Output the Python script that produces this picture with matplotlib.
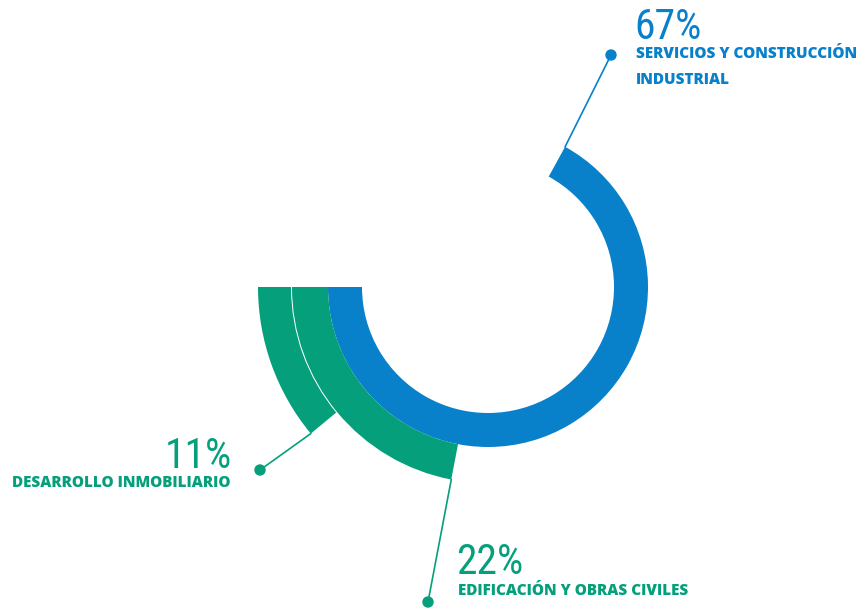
import matplotlib
matplotlib.use("Agg")
import matplotlib.pyplot as plt
from matplotlib.patches import Wedge, Circle
import numpy as np

# datos: reparto por área de negocio
areas = ["SERVICIOS Y CONSTRUCCIÓN\nINDUSTRIAL",
         "EDIFICACIÓN Y OBRAS CIVILES",
         "DESARROLLO INMOBILIARIO"]
shares = [67, 22, 11]
colors = ["#0880CA", "#05A07B", "#05A07B"]

W, H = 866, 608
CX, CY = 488, H - 287          # centro de los anillos (coordenadas en píxeles)
START = 180                    # todos los anillos arrancan a la izquierda
rings = [(126, 160), (160, 196), (197, 230)]   # radio interior / exterior

# punto final de la guía y posición de los textos (px, y desde arriba)
dots = [(611, 55), (428, 602), (260, 470)]
pct_pos = [(634, 39, "left"), (456, 574, "left"), (232, 468, "right")]
lab_pos = [(636, 46, "left"), (458, 583, "left"), (231, 475, "right")]

PCT_FONT = ["Roboto Condensed", "DejaVu Sans"]
LAB_FONT = ["Open Sans", "DejaVu Sans"]

fig = plt.figure(figsize=(W / 100, H / 100), dpi=100)
ax = fig.add_axes([0, 0, 1, 1])
ax.set_xlim(0, W)
ax.set_ylim(0, H)
ax.set_aspect("equal")
ax.axis("off")

for i, (share, col) in enumerate(zip(shares, colors)):
    r_in, r_out = rings[i]
    span = share * 3.6
    ax.add_patch(Wedge((CX, CY), r_out, START, START + span,
                       width=r_out - r_in, facecolor=col, edgecolor="none"))

    # guía desde la esquina exterior del arco hasta el punto
    end = np.deg2rad(START + span)
    x0 = CX + r_out * np.cos(end)
    y0 = CY + r_out * np.sin(end)
    dx, dy = dots[i]
    ax.plot([x0, dx], [y0, H - dy], color=col, lw=1.2, solid_capstyle="round")
    ax.add_patch(Circle((dx, H - dy), 5, color=col))

    px, py, ha = pct_pos[i]
    ax.text(px, H - py, f"{share}%", ha=ha, va="baseline", color=col,
            fontsize=30, family=PCT_FONT, fontstretch="condensed",
            fontweight="normal")
    lx, ly, lha = lab_pos[i]
    ax.text(lx, H - ly, areas[i], ha=lha, va="top", color=col,
            fontsize=11, fontweight="heavy", family=LAB_FONT,
            linespacing=1.8, multialignment=lha)

fig.savefig("out.png", dpi=100, facecolor="white")
